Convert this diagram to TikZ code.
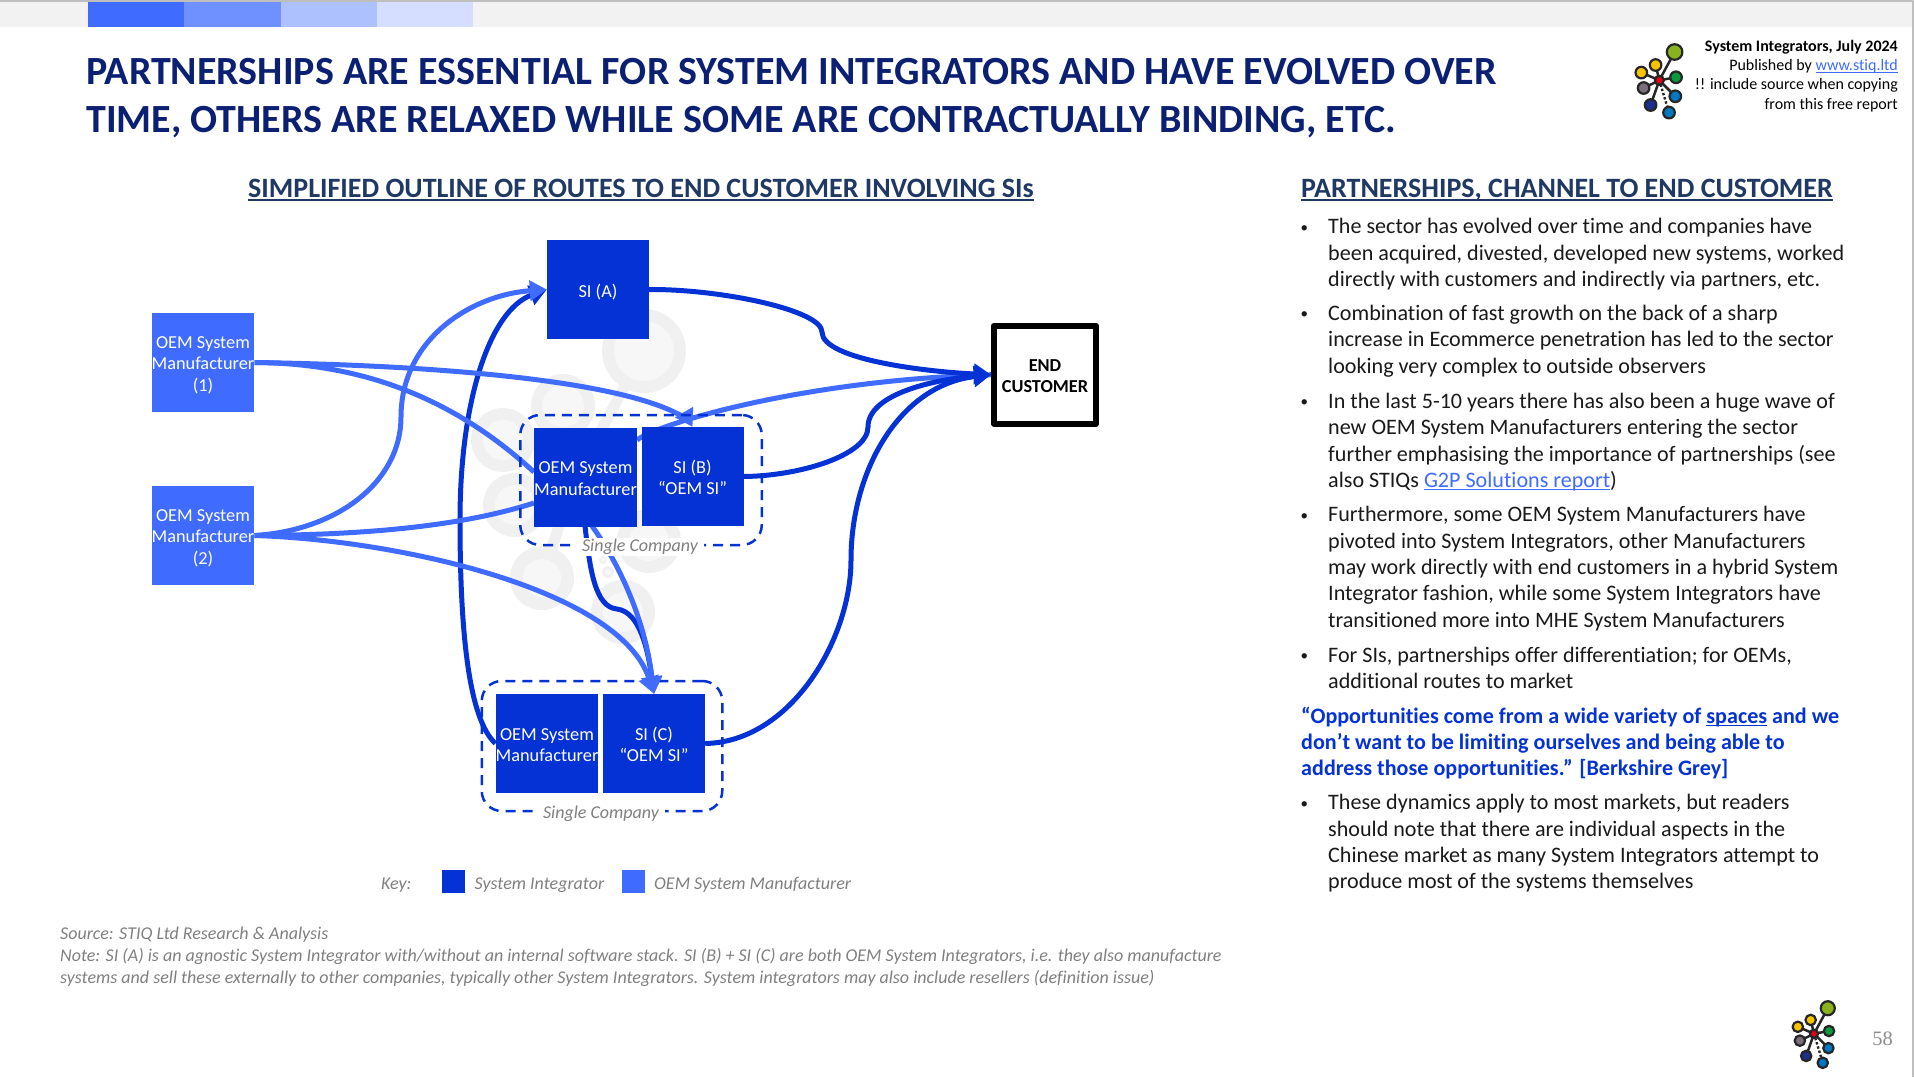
\documentclass[tikz,border=0pt]{standalone}
\usepackage{fontspec}
\setmainfont{Carlito}[Ligatures=NoCommon]
\newfontfamily\numfont{Liberation Serif}
\usetikzlibrary{arrows.meta,backgrounds}
\definecolor{siblue}{HTML}{0532D4}
\definecolor{oemblue}{HTML}{3F6BFF}
\definecolor{navy}{HTML}{0B1F73}
\definecolor{subnavy}{HTML}{1F3864}
\definecolor{notegray}{HTML}{7F7F7F}
\newcommand{\fs}[2]{\fontsize{#1}{#2}\selectfont}
\newcommand{\underrule}[3]{\setbox0\hbox{#3}\rlap{\rule[-#1]{\wd0}{#2}}\box0\relax}
\newcommand{\blt}{\strut\llap{\raisebox{1.5pt}{\fs{15}{15}\textbullet}\hspace{20pt}}}
\newcommand{\topgap}[1]{\rule{0pt}{#1}}
\tikzset{
	sibox/.style={fill=siblue,text=white,inner sep=0pt,minimum width=102pt,minimum height=99pt,align=center,font=\fs{18.3}{21.4}},
	oembox/.style={sibox,fill=oemblue},
	endbox/.style={draw=black,line width=6pt,fill=white,inner sep=0pt,minimum width=102pt,minimum height=98pt,align=center,font=\fs{18.3}{21.4}\bfseries},
	company/.style={draw=siblue,line width=2.5pt,dash pattern=on 10pt off 7pt,rounded corners=20pt,inner sep=0pt},
	companylabel/.style={fill=white,text=notegray,inner xsep=6pt,inner ysep=1pt,font=\fs{18}{21}\itshape},
	keysq/.style={inner sep=0pt,minimum width=23pt,minimum height=23pt},
	keytext/.style={anchor=base west,inner sep=0pt,text=notegray,font=\fs{18}{21}\itshape},
	route/.style={line width=5pt,-{Triangle[length=17pt,width=20pt]}},
	routeplain/.style={line width=5pt},
	body/.style={anchor=north west,inner sep=0pt,align=left,text=black!90,font=\fs{22.1}{26.4}},
	heading/.style={anchor=base west,inner sep=0pt,text=subnavy,font=\fs{28}{32}\bfseries},
	mark ring/.style={fill=black!6},
	mark core/.style={fill=black!3},
	stiqlogo/.pic={
		\draw[line width=2.5pt,black!85] (0,0)--(15.3,-28.3) (0,0)--(-3.7,-15.3) (0,0)--(-18,-7.7) (0,0)--(-15.7,7.7)
			(0,0)--(-8.7,24.7) (0,0)--(16,16) (0,0)--(16.7,-3);
		\draw[line width=2.4pt,black!85,dotted] (0,0)--(9.7,32.3);
		\foreach \x/\y/\r/\c in {15.3/-28.3/7.8/8AB21F,-3.7/-15.3/5.8/F7C400,-18/-7.7/5.8/F7C400,-15.7/7.7/5.8/7A6E78,
			-8.7/24.7/5.8/1B2F8F,9.7/32.3/5.8/0078C4,16/16/5.8/0078C4,16.7/-3/5.8/0A9A3C,0/0/4.5/E30016}
			{\definecolor{dotc}{HTML}{\c}\draw[line width=2.2pt,black!85,fill=dotc] (\x,\y) circle (\r);}
	}
}
\begin{document}
\begin{tikzpicture}[x=1pt,y=-1pt,>=stealth,line join=round]
	\useasboundingbox (0,0) rectangle (1914,1077);
	% top band
	\fill[black!5] (0,0) rectangle (1914,27);
	\fill[oemblue] (88,0) rectangle (184,27);
	\fill[oemblue!75!white] (184,0) rectangle (281,27);
	\fill[oemblue!42!white] (281,0) rectangle (377,27);
	\fill[oemblue!22!white] (377,0) rectangle (473,27);
	\draw[black!25,line width=2pt] (0,0.5)--(1913,0.5)--(1913,1077);
	% titles
	\node[anchor=north west,inner sep=0pt,align=left,text=navy,font=\fs{40}{48}\bfseries] (title) at (86,51)
		{\strut PARTNERSHIPS ARE ESSENTIAL FOR SYSTEM INTEGRATORS AND HAVE EVOLVED OVER\\
		TIME, OTHERS ARE RELAXED WHILE SOME ARE CONTRACTUALLY BINDING, ETC.};
	\node[anchor=north east,inner sep=0pt,align=right,font=\fs{16}{19.3}] (pub) at (1898,37.5)
		{\strut\textbf{System Integrators, July 2024}\\
		Published by \textcolor{oemblue}{\underrule{2.5pt}{1pt}{www.stiq.ltd}}\\
		!! include source when copying\\
		from this free report};
	\pic at (1659.3,80.3) {stiqlogo};
	\pic[scale=.9] at (1814,1033.7) {stiqlogo};
	\node[anchor=base east,inner sep=0pt,text=black!45,font=\fs{20.5}{24}\numfont] (pageno) at (1893,1045) {58};
	\node[heading] (lefthead) at (248,197) {\underrule{3.5pt}{2pt}{SIMPLIFIED OUTLINE OF ROUTES TO END CUSTOMER INVOLVING SIs}};
	\node[heading] (righthead) at (1301,197) {\underrule{3.5pt}{2pt}{PARTNERSHIPS, CHANNEL TO END CUSTOMER}};
	% boxes
	\node[oembox] (oemA) at (203,362.5) {\topgap{17pt}OEM System\\Manufacturer\\(1)};
	\node[oembox] (oemD) at (203,535.5) {\topgap{17pt}OEM System\\Manufacturer\\(2)};
	\node[sibox] (siA) at (598,289.5) {\topgap{18pt}SI (A)};
	\node[sibox] (oemB) at (585.5,477) {\topgap{15pt}OEM System\\Manufacturer};
	\node[sibox] (siB) at (692.5,476.5) {\topgap{15pt}SI (B)\\“OEM SI”};
	\node[sibox] (oemC) at (547,743.5) {\topgap{15pt}OEM System\\Manufacturer};
	\node[sibox] (siC) at (654,743.5) {\topgap{15pt}SI (C)\\“OEM SI”};
	\node[endbox] (endcust) at (1045,374.7) {\topgap{15pt}END\\CUSTOMER};
	\begin{scope}[on background layer]
		% faint logo behind the routes
		\draw[black!6,line width=11pt] (574,480)--(644,351) (574,480)--(542,578);
		\foreach \x/\y/\r/\i in {644/351/42/30,563/406/32/21,503/440/32/20,515/505/32/20,542/578/32/19,623/612/32/20,649/541/32/20,608/572/6/3,603/560/4/2}
			{\fill[mark ring] (\x,\y) circle (\r); \fill[mark core] (\x,\y) circle (\i);}
		\node[company,minimum width=240.5pt,minimum height=130pt] (compC) at (602,746) {};
		% routes
		\draw[routeplain,oemblue] ([yshift=37pt]oemB.east) .. controls (655,425) and (800,380) .. (endcust.west);
		\draw[route,siblue] (siA.east) .. controls (720,289) and (822,310) .. (822,332) .. controls (822,360) and (930,372) .. (endcust.west);
		\draw[route,siblue] (siB.east) .. controls (800,476) and (868,455) .. (868,427) .. controls (868,395) and (930,380) .. (endcust.west);
		\draw[route,siblue] (siC.east) .. controls (790,742) and (851,640) .. (851,560) .. controls (851,470) and (900,385) .. (endcust.west);
		\draw[route,siblue] (oemC.west) .. controls (470,720) and (460,640) .. (460,520) .. controls (460,400) and (490,310) .. (siA.west);
		\draw[route,siblue] (585,526) .. controls (590,570) and (595,607) .. (617,609) .. controls (640,612) and (648,650) .. (siC.north);
		\draw[routeplain,oemblue] (oemA.east) .. controls (340,363) and (440,385) .. ([yshift=5pt]oemB.west);
		\draw[route,oemblue] (oemA.east) .. controls (420,365) and (600,378) .. (672,411) .. controls (680,415) and (688,419) .. (siB.north);
		\draw[route,oemblue] (oemD.east) .. controls (340,530) and (401,480) .. (401,417) .. controls (401,340) and (470,295) .. (siA.west);
		\draw[routeplain,oemblue] (oemD.east) .. controls (340,535) and (450,530) .. ([yshift=-26pt]oemB.west);
		\draw[route,oemblue] (oemD.east) .. controls (400,540) and (620,590) .. (siC.north);
		\draw[route,oemblue] (592,526) .. controls (620,565) and (645,620) .. (siC.north);
	\end{scope}
	\node[company,minimum width=241.5pt,minimum height=130pt] (compB) at (641,480) {};
	\node[companylabel] (labelB) at (640,547) {Single Company};
	\node[companylabel] (labelC) at (601,814) {Single Company};
	% key
	\node[keytext] (keyword) at (381,889) {Key:};
	\node[keysq,fill=siblue] (keysi) at (453.5,881.5) {};
	\node[keytext] (keysitext) at (474.5,889) {System Integrator};
	\node[keysq,fill=oemblue] (keyoem) at (633.5,881.5) {};
	\node[keytext] (keyoemtext) at (654,889) {OEM System Manufacturer};
	% notes
	\node[anchor=north west,inner sep=0pt,align=left,text=notegray,font=\fs{18}{22}\itshape] (notes) at (60,923.9)
		{\strut Source: STIQ Ltd Research \& Analysis\\
		Note: SI (A) is an agnostic System Integrator with/without an internal software stack. SI (B) + SI (C) are both OEM System Integrators, i.e. they also manufacture\\
		systems and sell these externally to other companies, typically other System Integrators. System integrators may also include resellers (definition issue)};
	% right column
	\node[body] (p1) at (1328,215) {\blt The sector has evolved over time and companies have\\been acquired, divested, developed new systems, worked\\directly with customers and indirectly via partners, etc.};
	\node[body] (p2) at (1328,301.7) {\blt Combination of fast growth on the back of a sharp\\increase in Ecommerce penetration has led to the sector\\looking very complex to outside observers};
	\node[body] (p3) at (1328,389.6) {\blt In the last 5-10 years there has also been a huge wave of\\new OEM System Manufacturers entering the sector\\further emphasising the importance of partnerships (see\\also STIQs \textcolor{oemblue}{\underrule{3pt}{1pt}{G2P Solutions report}})};
	\node[body] (p4) at (1328,503.1) {\blt Furthermore, some OEM System Manufacturers have\\pivoted into System Integrators, other Manufacturers\\may work directly with end customers in a hybrid System\\Integrator fashion, while some System Integrators have\\transitioned more into MHE System Manufacturers};
	\node[body] (p5) at (1328,643.5) {\blt For SIs, partnerships offer differentiation; for OEMs,\\additional routes to market};
	\node[body,text=siblue,font=\fs{22.1}{26.4}\bfseries] (quote) at (1301,704.5) {\strut “Opportunities come from a wide variety of \underrule{3pt}{1.5pt}{spaces} and we\\don't want to be limiting ourselves and being able to\\address those opportunities.” [Berkshire Grey]};
	\node[body] (p6) at (1328,791.1) {\blt These dynamics apply to most markets, but readers\\should note that there are individual aspects in the\\Chinese market as many System Integrators attempt to\\produce most of the systems themselves};
\end{tikzpicture}
\end{document}
